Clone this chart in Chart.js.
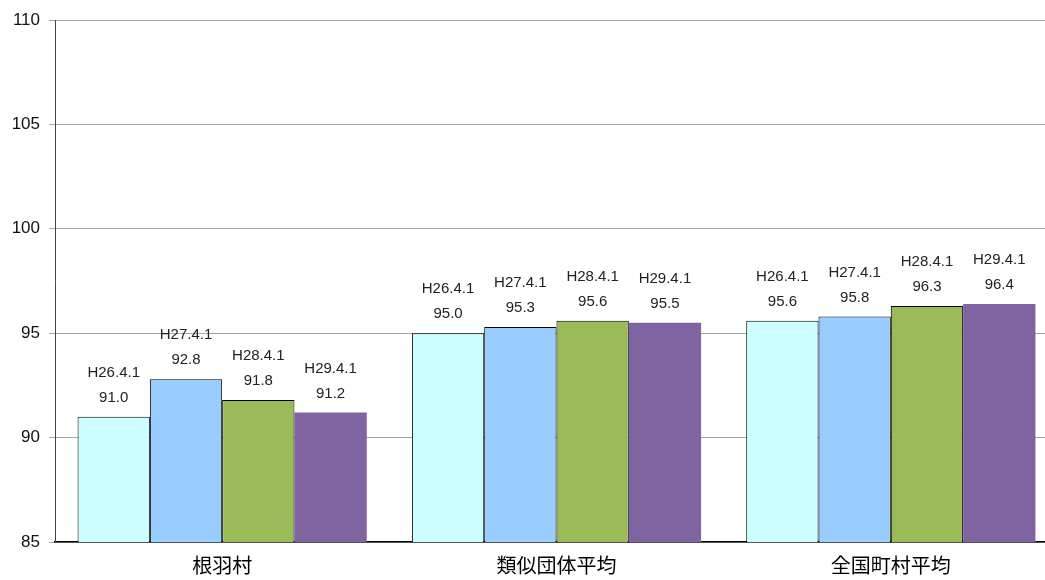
<!DOCTYPE html>
<html>
<head>
<meta charset="utf-8">
<script src="https://cdn.jsdelivr.net/npm/chart.js@4/dist/chart.umd.min.js"></script>
<style>
  html, body { margin: 0; padding: 0; background: #fff; overflow: hidden; }
  #wrap { width: 1045px; height: 580px; overflow: hidden; }
</style>
</head>
<body>
<div id="wrap"><canvas id="c" width="1058" height="580"></canvas></div>
<script>
// Categories and the four survey dates (each bar is labelled with its date and value)
const categories = ['根羽村', '類似団体平均', '全国町村平均'];
const seriesLabels = ['H26.4.1', 'H27.4.1', 'H28.4.1', 'H29.4.1'];
const h26 = [91.0, 95.0, 95.6];
const h27 = [92.8, 95.3, 95.8];
const h28 = [91.8, 95.6, 96.3];
const h29 = [91.2, 95.5, 96.4];
const yTicks = [85, 90, 95, 100, 105, 110];

const seriesValues = [h26, h27, h28, h29];
const fills = ['#ccffff', '#99ccff', '#9bbb59', '#8064a2'];
const borders = [1, 1, 1, 0];

// Two-line label (date / value) above every bar
const barLabels = {
  id: 'barLabels',
  afterDatasetsDraw(chart) {
    const ctx = chart.ctx;
    ctx.save();
    ctx.font = '15px "Liberation Sans", Arial, sans-serif';
    ctx.fillStyle = '#222';
    ctx.textAlign = 'center';
    ctx.textBaseline = 'middle';
    chart.data.datasets.forEach((ds, di) => {
      const meta = chart.getDatasetMeta(di);
      meta.data.forEach((el, i) => {
        const v = ds.data[i];
        ctx.fillText(ds.label, el.x, el.y - 44);
        ctx.fillText(v.toFixed(1), el.x, el.y - 19);
      });
    });
    ctx.restore();
  }
};

new Chart(document.getElementById('c'), {
  type: 'bar',
  data: {
    labels: categories,
    datasets: seriesLabels.map((lab, k) => ({
      label: lab,
      data: seriesValues[k],
      backgroundColor: fills[k],
      borderColor: '#000',
      borderWidth: borders[k],
      categoryPercentage: 0.865,
      barPercentage: 1.0
    }))
  },
  options: {
    responsive: false,
    animation: false,
    layout: { padding: { top: 20, right: 0, left: 0, bottom: 0 } },
    plugins: {
      legend: { display: false },
      tooltip: { enabled: false }
    },
    scales: {
      x: {
        grid: { display: false },
        border: { color: '#000', width: 1.5 },
        ticks: {
          color: '#000',
          padding: 3,
          font: { family: '"Noto Sans CJK JP", sans-serif', size: 20 }
        },
        afterFit(scale) { scale.height = 38; }
      },
      y: {
        min: yTicks[0],
        max: yTicks[yTicks.length - 1],
        afterBuildTicks(scale) { scale.ticks = yTicks.map(v => ({ value: v })); },
        grid: { color: '#a6a6a6', lineWidth: 1, tickLength: 6, drawTicks: true },
        border: { color: '#444', width: 1 },
        ticks: {
          color: '#111',
          padding: 9,
          font: { family: '"Liberation Sans", Arial, sans-serif', size: 17 }
        },
        afterFit(scale) { scale.width = 55; }
      }
    }
  },
  plugins: [barLabels]
});
</script>
</body>
</html>
